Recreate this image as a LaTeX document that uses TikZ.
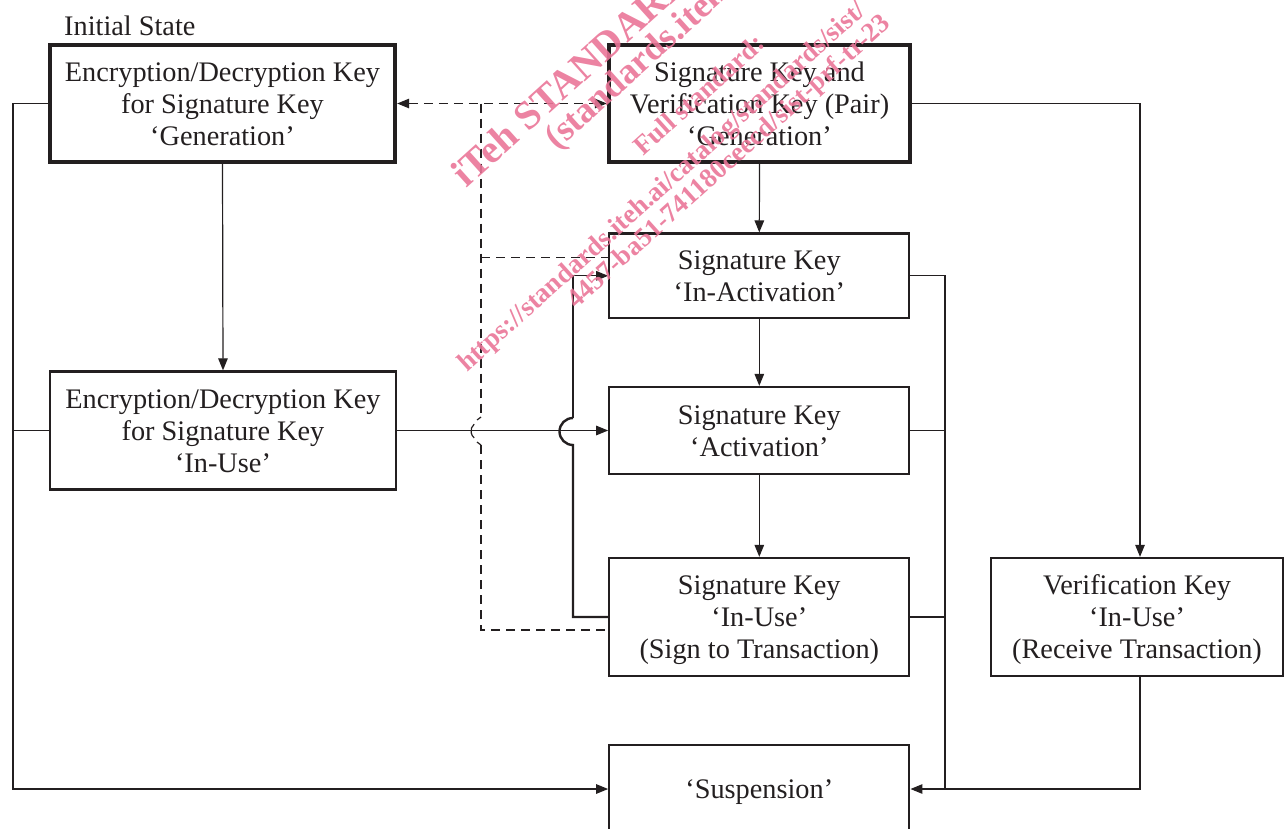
\documentclass[tikz,border=0pt]{standalone}
\usepackage{fontspec}
\setmainfont{Liberation Serif}
\usetikzlibrary{arrows.meta}
\definecolor{wm}{RGB}{234,118,152}
\definecolor{ink}{RGB}{35,31,32}
\newcommand{\boxtext}[1]{\raisebox{-3.5pt}[\height][\depth]{\begin{tabular}{@{}c@{}}#1\end{tabular}}}
\begin{document}
\begin{tikzpicture}[x=1pt,y=-1pt,
  box/.style={draw=ink, line width=2.3pt, inner sep=0pt, text=ink,
    font=\fontsize{28.3}{32}\selectfont},
  thickbox/.style={box, line width=4.3pt},
  conn/.style={draw=ink, line width=1.2pt},
  tip/.tip={Triangle[length=12pt,width=9.5pt]},
  arr/.style={conn, -tip},
  dsh/.style={conn, dash pattern=on 9pt off 6pt},
  wmk/.style={text=wm, text opacity=0.9, font=\bfseries\fontsize{40}{40}\selectfont,
    anchor=base west, rotate=42, inner sep=0pt},
  wmm/.style={wmk, font=\bfseries\fontsize{36}{36}\selectfont},
  wms/.style={wmk, font=\bfseries\fontsize{27}{27}\selectfont}]
\path[use as bounding box] (0,0) rectangle (1284,828);
\clip (0,0) rectangle (1284,828);

% nodes
\node[anchor=west, inner sep=0pt, text=ink, font=\fontsize{28.3}{32}\selectfont] (init) at (64,26) {Initial State};
\node[thickbox, minimum width=345pt, minimum height=117pt] (A) at (222.5,103.5)
  {\boxtext{Encryption/Decryption Key\\for Signature Key\\`Generation'}};
\node[thickbox, minimum width=301pt, minimum height=117pt] (B) at (759.5,103.5)
  {\boxtext{Signature Key and\\Verification Key (Pair)\\`Generation'}};
\node[box, minimum width=300pt, minimum height=84.5pt] (C) at (759.3,275.8)
  {\boxtext{Signature Key\\`In-Activation'}};
\node[box, minimum width=346pt, minimum height=118pt] (D) at (223,430.5)
  {\boxtext{Encryption/Decryption Key\\for Signature Key\\`In-Use'}};
\node[box, minimum width=300pt, minimum height=87pt] (E) at (759.3,430.5)
  {\boxtext{Signature Key\\`Activation'}};
\node[box, minimum width=300pt, minimum height=118pt] (F) at (759.3,617)
  {\boxtext{Signature Key\\`In-Use'\\(Sign to Transaction)}};
\node[box, minimum width=292pt, minimum height=118pt] (G) at (1137,617)
  {\boxtext{Verification Key\\`In-Use'\\(Receive Transaction)}};
\node[box, minimum width=300pt, minimum height=88pt] (H) at (759.3,789)
  {\boxtext{`Suspension'}};

% helper coordinates
\coordinate (lt) at (13,103.5);
\coordinate (lb) at (13,789);
\coordinate (rt) at (945,275.8);
\coordinate (rb) at (945,789);
\coordinate (gx) at (1140,0);
\coordinate (dx) at (481,0);
\coordinate (lx) at (573,0);
\coordinate (hopT) at (481,417);
\coordinate (hopB) at (481,445);
\coordinate (arcB) at (573,445);
\coordinate (arcT) at (573,418);

% main vertical flow
\draw[arr] (A.south) -- (D.north);
\draw[arr] (B.south) -- (C.north);
\draw[arr] (C.south) -- (E.north);
\draw[arr] (E.south) -- (F.north);
\draw[arr] (D.east) -- (E.west);

% left bus to suspension
\draw[arr] (A.west) -- (lt) -- (lb) -- (H.west);
\draw[conn] (D.west) -- (D.west -| lt);

% right bus to suspension
\draw[conn] (C.east) -- (rt) -- (rb);
\draw[arr] (rb) -- (H.east);
\draw[conn] (E.east) -- (E.east -| rt);
\draw[conn] (F.east) -- (F.east -| rt);
\draw[conn] (G.south -| gx) -- (gx |- rb) -- (rb);
\draw[arr] (B.east) -- (B.east -| gx) -- (gx |- G.north);

% dashed links
\draw[dsh, tip-tip] (A.east) -- (B.west);
\draw[dsh] (A.east -| dx) -- (hopT);
\draw[dsh] ([yshift=18pt]C.west -| dx) -- ([yshift=18pt]C.west);
\draw[dsh] (hopB) -- ([yshift=-13pt]F.west -| dx) -- ([yshift=-13pt]F.west);
\draw[conn] (hopT) -- (477,420);
\draw[conn] (474.2,424.1) arc[start angle=130, end angle=230, radius=9pt];
\draw[conn] (477,442) -- (hopB);

% return loop from In-Use to In-Activation
\draw[conn, line width=2.4pt] (F.west) -- (F.west -| lx) -- (arcB)
  arc[start angle=270, end angle=90, radius=13.5pt];
\draw[arr] (arcT) -- (lx |- C.west) -- (C.west);

% watermark
\node[wmk] (w1) at (466,189) {iTeh STANDARD PREVIEW};
\node[wmm] (w2) at (557,151) {(standards.iteh.ai)};
\node[wms] (w3) at (643,157) {Full standard:};
\node[wms] (w4) at (467,373) {https://standards.iteh.ai/catalog/standards/sist/};
\node[wms] (w5) at (576,310) {4457-ba51-741180ceecd/sist-prf-tr-23};
\end{tikzpicture}
\end{document}
